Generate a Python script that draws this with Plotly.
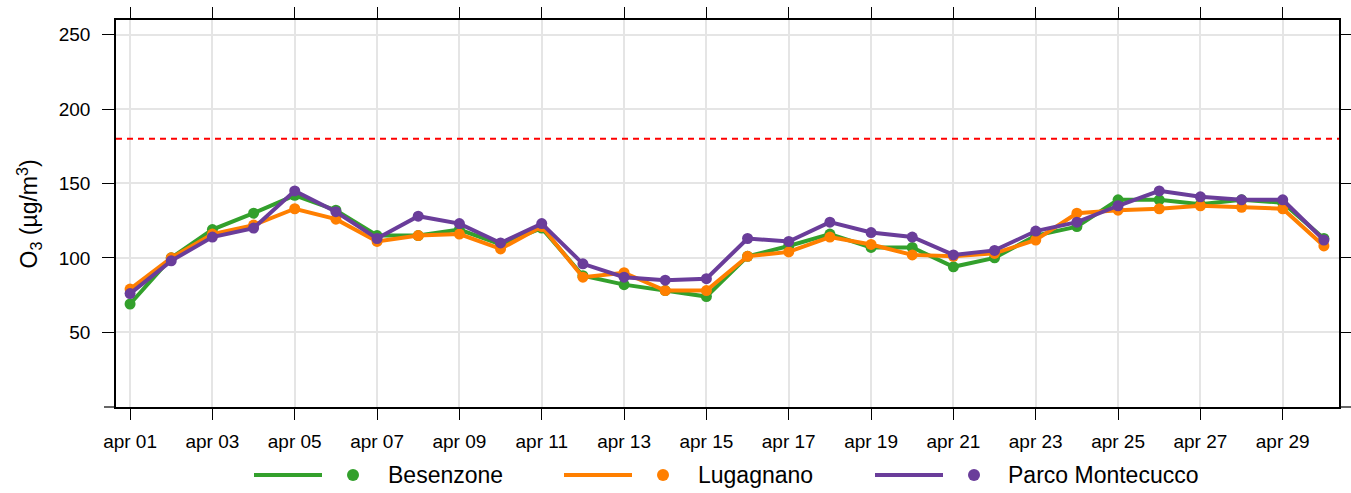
import pandas as pd
import plotly.graph_objects as go

# ---- data ----
days = pd.date_range("2024-04-01", "2024-04-30", freq="D")
besenzone = [69, 100, 119, 130, 142, 132, 115, 115, 119, 109, 120, 88, 82, 78, 74,
             101, 108, 116, 107, 107, 94, 100, 115, 121, 139, 139, 136, 139, 137, 113]
lugagnano = [79, 100, 116, 122, 133, 126, 111, 115, 116, 106, 121, 87, 90, 78, 78,
             101, 104, 114, 109, 102, 101, 103, 112, 130, 132, 133, 135, 134, 133, 108]
montecucco = [76, 98, 114, 120, 145, 131, 113, 128, 123, 110, 123, 96, 87, 85, 86,
              113, 111, 124, 117, 114, 102, 105, 118, 124, 135, 145, 141, 139, 139, 112]
series_names = ["Besenzone", "Lugagnano", "Parco Montecucco"]
series_values = [besenzone, lugagnano, montecucco]
series_colors = ["#33a02c", "#ff7f00", "#6a3d9a"]
threshold = 180
x_tick_dates = pd.date_range("2024-04-01", "2024-04-29", freq="2D")
x_tick_labels = ["apr 01", "apr 03", "apr 05", "apr 07", "apr 09", "apr 11", "apr 13",
                 "apr 15", "apr 17", "apr 19", "apr 21", "apr 23", "apr 25", "apr 27", "apr 29"]
y_tick_vals = [50, 100, 150, 200, 250]
y_tick_labels = ["50", "100", "150", "200", "250"]

# ---- layout geometry (pixels) ----
W, H = 1351, 493
ML, MR, MT, MB = 116, 12, 20, 86
PW, PH = W - ML - MR, H - MT - MB
FONT = "Liberation Sans, Arial, sans-serif"


def px2x(px):
    return (px - ML) / PW


def py2y(py):
    return (H - MB - py) / PH


fig = go.Figure()
for name, vals, col in zip(series_names, series_values, series_colors):
    fig.add_trace(go.Scatter(
        x=days, y=vals, name=name, mode="lines+markers",
        line=dict(color=col, width=4),
        marker=dict(color=col, size=11),
        showlegend=False,
    ))

shapes = [dict(type="line", xref="paper", x0=0, x1=1, yref="y", y0=threshold, y1=threshold,
               line=dict(color="#ff0000", width=2, dash="6px,5px"), layer="above")]
# outward ticks at the bottom of the y range (left and right)
for anchor, a, b in [(0, -12, 0), (1, 0, 12)]:
    shapes.append(dict(type="line", xref="paper", yref="paper", xsizemode="pixel",
                       xanchor=anchor, x0=a, x1=b, y0=0, y1=0,
                       line=dict(color="black", width=1.2)))
annotations = []

# manual legend: line segment, dot, label
legend_y = py2y(475)
legend_items = [(254, 322, 353, 386), (564, 632, 663, 696), (875, 943, 974, 1006)]
for (lx0, lx1, dx, tx), name, col in zip(legend_items, series_names, series_colors):
    shapes.append(dict(type="line", xref="paper", yref="paper",
                       x0=px2x(lx0), x1=px2x(lx1), y0=legend_y, y1=legend_y,
                       line=dict(color=col, width=4)))
    shapes.append(dict(type="circle", xref="paper", yref="paper",
                       xsizemode="pixel", ysizemode="pixel",
                       xanchor=px2x(dx), yanchor=legend_y,
                       x0=-6, x1=6, y0=-6, y1=6,
                       fillcolor=col, line=dict(color=col, width=0)))
    annotations.append(dict(x=px2x(tx), y=legend_y, xref="paper", yref="paper",
                            text=name, showarrow=False, xanchor="left", yanchor="middle",
                            font=dict(size=23, color="black", family=FONT)))

annotations.append(dict(x=px2x(28), y=0.5, xref="paper", yref="paper",
                        text="O<sub>3</sub> (µg/m<sup>3</sup>)", textangle=-90,
                        showarrow=False, xanchor="center", yanchor="middle",
                        font=dict(size=23, color="black", family=FONT)))

fig.update_layout(
    width=W, height=H,
    margin=dict(l=ML, r=MR, t=MT, b=MB, pad=0, autoexpand=False),
    paper_bgcolor="white", plot_bgcolor="white",
    font=dict(family=FONT, color="black", size=19),
    shapes=shapes, annotations=annotations,
    showlegend=False,
    xaxis=dict(
        type="date", automargin=False,
        range=[pd.Timestamp("2024-04-01") - pd.Timedelta(hours=8.2),
               pd.Timestamp("2024-04-30") + pd.Timedelta(hours=8.8)],
        tickvals=list(x_tick_dates), ticktext=x_tick_labels,
        ticks="outside", ticklen=11, tickwidth=1.2, tickcolor="black",
        showline=True, linecolor="black", linewidth=1.5, mirror="allticks",
        showgrid=True, gridcolor="#e5e5e5", gridwidth=1.5,
        zeroline=False, tickfont=dict(size=19), ticklabelstandoff=5,
    ),
    yaxis=dict(
        automargin=False,
        range=[-0.2, 259.8],
        tickvals=y_tick_vals, ticktext=y_tick_labels,
        ticks="outside", ticklen=12, tickwidth=1.2, tickcolor="black",
        showline=True, linecolor="black", linewidth=1.5, mirror="allticks",
        showgrid=True, gridcolor="#e5e5e5", gridwidth=1.5,
        zeroline=False, tickfont=dict(size=19), ticklabelstandoff=8,
    ),
)

fig.write_html(
    "out.html",
    config={"displayModeBar": False},
    post_script="document.body.style.margin='0';document.body.style.overflow='hidden';",
)
